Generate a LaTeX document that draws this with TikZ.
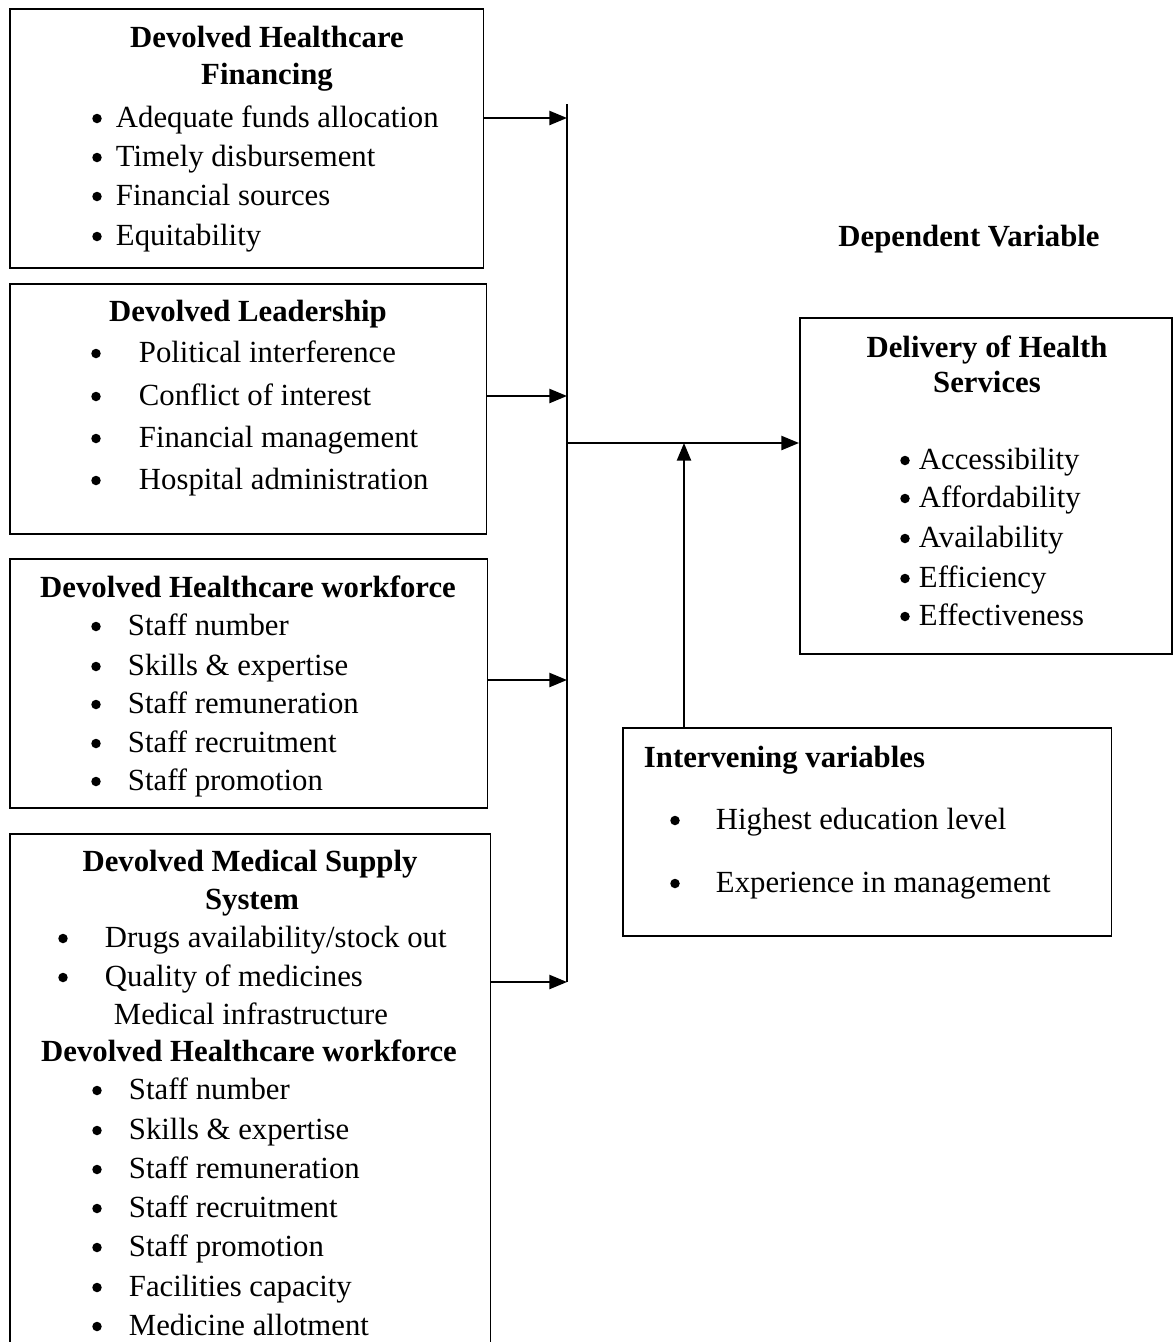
\documentclass[tikz,border=0pt]{standalone}
\usepackage{fontspec}
\setmainfont{Liberation Serif}
\usetikzlibrary{arrows.meta,positioning}

\newcommand{\bodysize}{\fontsize{17.5}{20}\selectfont}

\begin{document}
\begin{tikzpicture}
[x=0.02cm, y=-0.02cm, line width=1.1pt, >={Triangle[length=10pt,width=8pt]},
box/.style={rectangle, draw, line width=0.9pt, anchor=north west, inner sep=0pt},
head/.style={font=\bodysize\bfseries, anchor=base, inner sep=0pt},
entry/.style={font=\bodysize, anchor=base west, inner sep=0pt},
dot/.style={circle, fill, draw=none, inner sep=0pt, minimum size=0.19cm, yshift=0.17cm}]

\useasboundingbox (0,0) rectangle (1173,1342);

% boxes
\node[box, minimum width=9.48cm, minimum height=5.18cm] (fin) at (9,8) {};
\node[box, minimum width=9.54cm, minimum height=5.00cm] (lead) at (9,283) {};
\node[box, minimum width=9.56cm, minimum height=4.98cm] (work) at (9,558) {};
\node[box, minimum width=9.62cm, minimum height=10.40cm] (supply) at (9,833) {};
\node[box, minimum width=7.44cm, minimum height=6.72cm] (deliv) at (799,317) {};
\node[box, minimum width=9.78cm, minimum height=4.16cm] (interv) at (622,727) {};

% financing
\node[head] (fin-h1) at (267,47) {Devolved Healthcare};
\node[head] (fin-h2) at (267,84) {Financing};
\node[dot] (fin-d1) at (97,127) {};
\node[entry] (fin-1) at (115,127) {Adequate funds allocation};
\node[dot] (fin-d2) at (97,166) {};
\node[entry] (fin-2) at (115,166) {Timely disbursement};
\node[dot] (fin-d3) at (97,205) {};
\node[entry] (fin-3) at (115,205) {Financial sources};
\node[dot] (fin-d4) at (97,245) {};
\node[entry] (fin-4) at (115,245) {Equitability};

% leadership
\node[head] (lead-h) at (248,321) {Devolved Leadership};
\node[dot] (lead-d1) at (96,362) {};
\node[entry] (lead-1) at (138,362) {Political interference};
\node[dot] (lead-d2) at (96,405) {};
\node[entry] (lead-2) at (138,405) {Conflict of interest};
\node[dot] (lead-d3) at (96,447) {};
\node[entry] (lead-3) at (138,447) {Financial management};
\node[dot] (lead-d4) at (96,489) {};
\node[entry] (lead-4) at (138,489) {Hospital administration};

% workforce
\node[head] (work-h) at (248,597) {Devolved Healthcare workforce};
\node[dot] (work-d1) at (96,635) {};
\node[entry] (work-1) at (127,635) {Staff number};
\node[dot] (work-d2) at (96,675) {};
\node[entry] (work-2) at (127,675) {Skills \& expertise};
\node[dot] (work-d3) at (96,713) {};
\node[entry] (work-3) at (127,713) {Staff remuneration};
\node[dot] (work-d4) at (96,752) {};
\node[entry] (work-4) at (127,752) {Staff recruitment};
\node[dot] (work-d5) at (96,790) {};
\node[entry] (work-5) at (127,790) {Staff promotion};

% medical supply
\node[head] (sup-h1) at (250,871) {Devolved Medical Supply};
\node[head] (sup-h2) at (252,909) {System};
\node[dot] (sup-d1) at (63,947) {};
\node[entry] (sup-1) at (104,947) {Drugs availability/stock out};
\node[dot] (sup-d2) at (63,986) {};
\node[entry] (sup-2) at (104,986) {Quality of medicines};
\node[entry] (sup-3) at (113,1024) {Medical infrastructure};
\node[head] (sup-h3) at (249,1061) {Devolved Healthcare workforce};
\node[dot] (sup-d4) at (97,1099) {};
\node[entry] (sup-4) at (128,1099) {Staff number};
\node[dot] (sup-d5) at (97,1139) {};
\node[entry] (sup-5) at (128,1139) {Skills \& expertise};
\node[dot] (sup-d6) at (97,1178) {};
\node[entry] (sup-6) at (128,1178) {Staff remuneration};
\node[dot] (sup-d7) at (97,1217) {};
\node[entry] (sup-7) at (128,1217) {Staff recruitment};
\node[dot] (sup-d8) at (97,1256) {};
\node[entry] (sup-8) at (128,1256) {Staff promotion};
\node[dot] (sup-d9) at (97,1296) {};
\node[entry] (sup-9) at (128,1296) {Facilities capacity};
\node[dot] (sup-d10) at (97,1335) {};
\node[entry] (sup-10) at (128,1335) {Medicine allotment};

% dependent variable
\node[head] (dep) at (969,246) {Dependent Variable};
\node[head] (del-h1) at (987,357) {Delivery of Health};
\node[head] (del-h2) at (987,392) {Services};
\node[dot] (del-d1) at (905,469) {};
\node[entry] (del-1) at (918,469) {Accessibility};
\node[dot] (del-d2) at (905,507) {};
\node[entry] (del-2) at (918,507) {Affordability};
\node[dot] (del-d3) at (905,547) {};
\node[entry] (del-3) at (918,547) {Availability};
\node[dot] (del-d4) at (905,587) {};
\node[entry] (del-4) at (918,587) {Efficiency};
\node[dot] (del-d5) at (905,625) {};
\node[entry] (del-5) at (918,625) {Effectiveness};

% intervening variables
\node[head, anchor=base west] (int-h) at (643,767) {Intervening variables};
\node[dot] (int-d1) at (675,829) {};
\node[entry] (int-1) at (715,829) {Highest education level};
\node[dot] (int-d2) at (675,892) {};
\node[entry] (int-2) at (715,892) {Experience in management};

% connectors
\coordinate (top) at (567,104);
\coordinate (j1) at (567,118);
\coordinate (j2) at (567,396);
\coordinate (j3) at (567,680);
\coordinate (j4) at (567,982);
\coordinate (hub) at (567,443);
\coordinate (meet) at (684,443);

\draw (top) -- (j4);
\draw[->] (fin.east |- j1) -- (j1);
\draw[->] (lead.east |- j2) -- (j2);
\draw[->] (work.east |- j3) -- (j3);
\draw[->] (supply.east |- j4) -- (j4);
\draw[->] (hub) -- (deliv.west |- hub);
\draw[->] (interv.north -| meet) -- (meet);

\end{tikzpicture}
\end{document}
